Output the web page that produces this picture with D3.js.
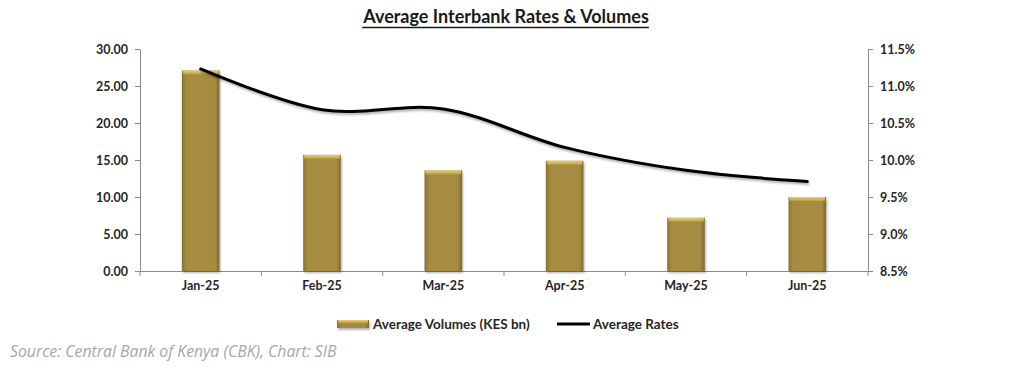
<!DOCTYPE html>
<html>
<head>
<meta charset="utf-8">
<script src="https://cdn.jsdelivr.net/npm/d3@7"></script>
<style>
  body { margin: 0; background: #fff; }
  svg { display: block; font-family: Lato, "Open Sans", sans-serif; }
</style>
</head>
<body>
<div id="chart"></div>
<script>
const months = ["Jan-25", "Feb-25", "Mar-25", "Apr-25", "May-25", "Jun-25"];
const volumes = [27.1, 15.7, 13.6, 14.9, 7.2, 10.0];
const rates = [11.23, 10.68, 10.69, 10.17, 9.86, 9.71];
const volumeTicks = [0, 5, 10, 15, 20, 25, 30];
const rateTicks = [8.5, 9.0, 9.5, 10.0, 10.5, 11.0, 11.5];

const W = 1024, H = 383;
const margin = { top: 49, right: 156, bottom: 112, left: 140 };
const width = W - margin.left - margin.right;
const height = H - margin.top - margin.bottom;

const root = d3.select("#chart").append("svg")
    .attr("width", W)
    .attr("height", H);

const defs = root.append("defs");
const grad = defs.append("linearGradient").attr("id", "barGrad")
    .attr("x1", "0%").attr("x2", "100%").attr("y1", "0%").attr("y2", "0%");
grad.append("stop").attr("offset", "0%").attr("stop-color", "#8a7230");
grad.append("stop").attr("offset", "12%").attr("stop-color", "#a68c40");
grad.append("stop").attr("offset", "88%").attr("stop-color", "#a68c40");
grad.append("stop").attr("offset", "100%").attr("stop-color", "#7f6a2c");
const topGrad = defs.append("linearGradient").attr("id", "topGrad")
    .attr("x1", "0%").attr("x2", "0%").attr("y1", "0%").attr("y2", "100%");
topGrad.append("stop").attr("offset", "0%").attr("stop-color", "#e8d278");
topGrad.append("stop").attr("offset", "100%").attr("stop-color", "#b79c48");
const shadow = defs.append("filter").attr("id", "shadow")
    .attr("x", "-10%").attr("y", "-10%").attr("width", "130%").attr("height", "140%");
shadow.append("feDropShadow").attr("dx", 1).attr("dy", 2).attr("stdDeviation", 1.3)
    .attr("flood-color", "#000").attr("flood-opacity", 0.3);

// title
const title = root.append("text")
    .attr("x", 506)
    .attr("y", 23)
    .attr("text-anchor", "middle")
    .attr("font-size", "18px")
    .attr("font-weight", "bold")
    .attr("fill", "#1a1a1a")
    .text("Average Interbank Rates & Volumes");
const tb = title.node().getBBox();
root.append("line")
    .attr("x1", tb.x).attr("x2", tb.x + tb.width)
    .attr("y1", 27.5).attr("y2", 27.5)
    .attr("stroke", "#1a1a1a").attr("stroke-width", 1.5);

const svg = root.append("g")
    .attr("transform", `translate(${margin.left},${margin.top})`);

const x = d3.scaleBand()
    .domain(months)
    .range([0, width])
    .padding(0);
const y = d3.scaleLinear()
    .domain([0, 30])
    .range([height, 0]);
const y2 = d3.scaleLinear()
    .domain([8.5, 11.5])
    .range([height, 0]);

// left axis
const yAxis = svg.append("g")
    .call(d3.axisLeft(y).tickValues(volumeTicks).tickFormat(d3.format(".2f")).tickSize(5).tickSizeOuter(0));
// right axis
const y2Axis = svg.append("g")
    .attr("transform", `translate(${width},0)`)
    .call(d3.axisRight(y2).tickValues(rateTicks).tickFormat(d => d.toFixed(1) + "%").tickSize(5).tickSizeOuter(0));
// bottom axis with ticks at band edges
const xAxis = svg.append("g")
    .attr("transform", `translate(0,${height})`)
    .call(d3.axisBottom(x).tickSize(0).tickSizeOuter(0));
xAxis.selectAll("text").attr("dy", "1.3em");
xAxis.selectAll(".edge")
    .data(d3.range(months.length + 1))
    .enter().append("line")
    .attr("class", "edge")
    .attr("x1", i => i * x.bandwidth())
    .attr("x2", i => i * x.bandwidth())
    .attr("y1", 0).attr("y2", 5)
    .attr("stroke", "#8c8c8c");

[yAxis, y2Axis, xAxis].forEach(a => {
    a.select(".domain").attr("stroke", "#8c8c8c");
    a.selectAll(".tick line").attr("stroke", "#8c8c8c");
    a.selectAll("text")
        .attr("font-size", "12.5px")
        .attr("font-weight", "bold")
        .attr("fill", "#262626")
        .attr("font-family", "Lato, 'Open Sans', sans-serif");
});
yAxis.selectAll("text").attr("x", -12);
y2Axis.selectAll("text").attr("x", 12);

// bars
const barW = x.bandwidth() * 0.31;
const bars = svg.selectAll(".bar")
    .data(months.map((m, i) => ({ m, v: volumes[i] })))
    .enter().append("g")
    .attr("class", "bar")
    .attr("filter", "url(#shadow)");
bars.append("rect")
    .attr("x", d => x(d.m) + (x.bandwidth() - barW) / 2)
    .attr("y", d => y(d.v))
    .attr("width", barW)
    .attr("height", d => height - y(d.v))
    .attr("fill", "url(#barGrad)");
bars.append("rect")
    .attr("x", d => x(d.m) + (x.bandwidth() - barW) / 2 + 1)
    .attr("y", d => y(d.v))
    .attr("width", barW - 2)
    .attr("height", 4)
    .attr("fill", "url(#topGrad)");

// rate line
const line = d3.line()
    .x((d, i) => x(months[i]) + x.bandwidth() / 2)
    .y(d => y2(d))
    .curve(d3.curveCatmullRom.alpha(0.5));
svg.append("path")
    .datum(rates)
    .attr("d", line)
    .attr("fill", "none")
    .attr("stroke", "#000")
    .attr("stroke-width", 3)
    .attr("stroke-linecap", "round")
    .attr("filter", "url(#shadow)");

// legend
const lg = root.append("g").attr("transform", "translate(337,324)");
lg.append("rect").attr("x", 0).attr("y", -4).attr("width", 32).attr("height", 8)
    .attr("fill", "url(#barGrad)").attr("filter", "url(#shadow)");
lg.append("rect").attr("x", 1).attr("y", -4).attr("width", 30).attr("height", 3)
    .attr("fill", "url(#topGrad)");
lg.append("text").attr("x", 36).attr("y", 0).attr("dy", "0.35em")
    .attr("font-size", "13.5px").attr("font-weight", "bold").attr("fill", "#262626")
    .text("Average Volumes (KES bn)");
lg.append("line").attr("x1", 220).attr("x2", 253).attr("y1", 0).attr("y2", 0)
    .attr("stroke", "#000").attr("stroke-width", 3);
lg.append("text").attr("x", 256).attr("y", 0).attr("dy", "0.35em")
    .attr("font-size", "13.5px").attr("font-weight", "bold").attr("fill", "#262626")
    .text("Average Rates");

// source
root.append("text")
    .attr("x", 10)
    .attr("y", 357)
    .attr("font-size", "15.8px")
    .attr("font-family", "'Open Sans', sans-serif")
    .attr("font-style", "italic")
    .attr("fill", "#a6a6a6")
    .text("Source: Central Bank of Kenya (CBK), Chart: SIB");
</script>
</body>
</html>
